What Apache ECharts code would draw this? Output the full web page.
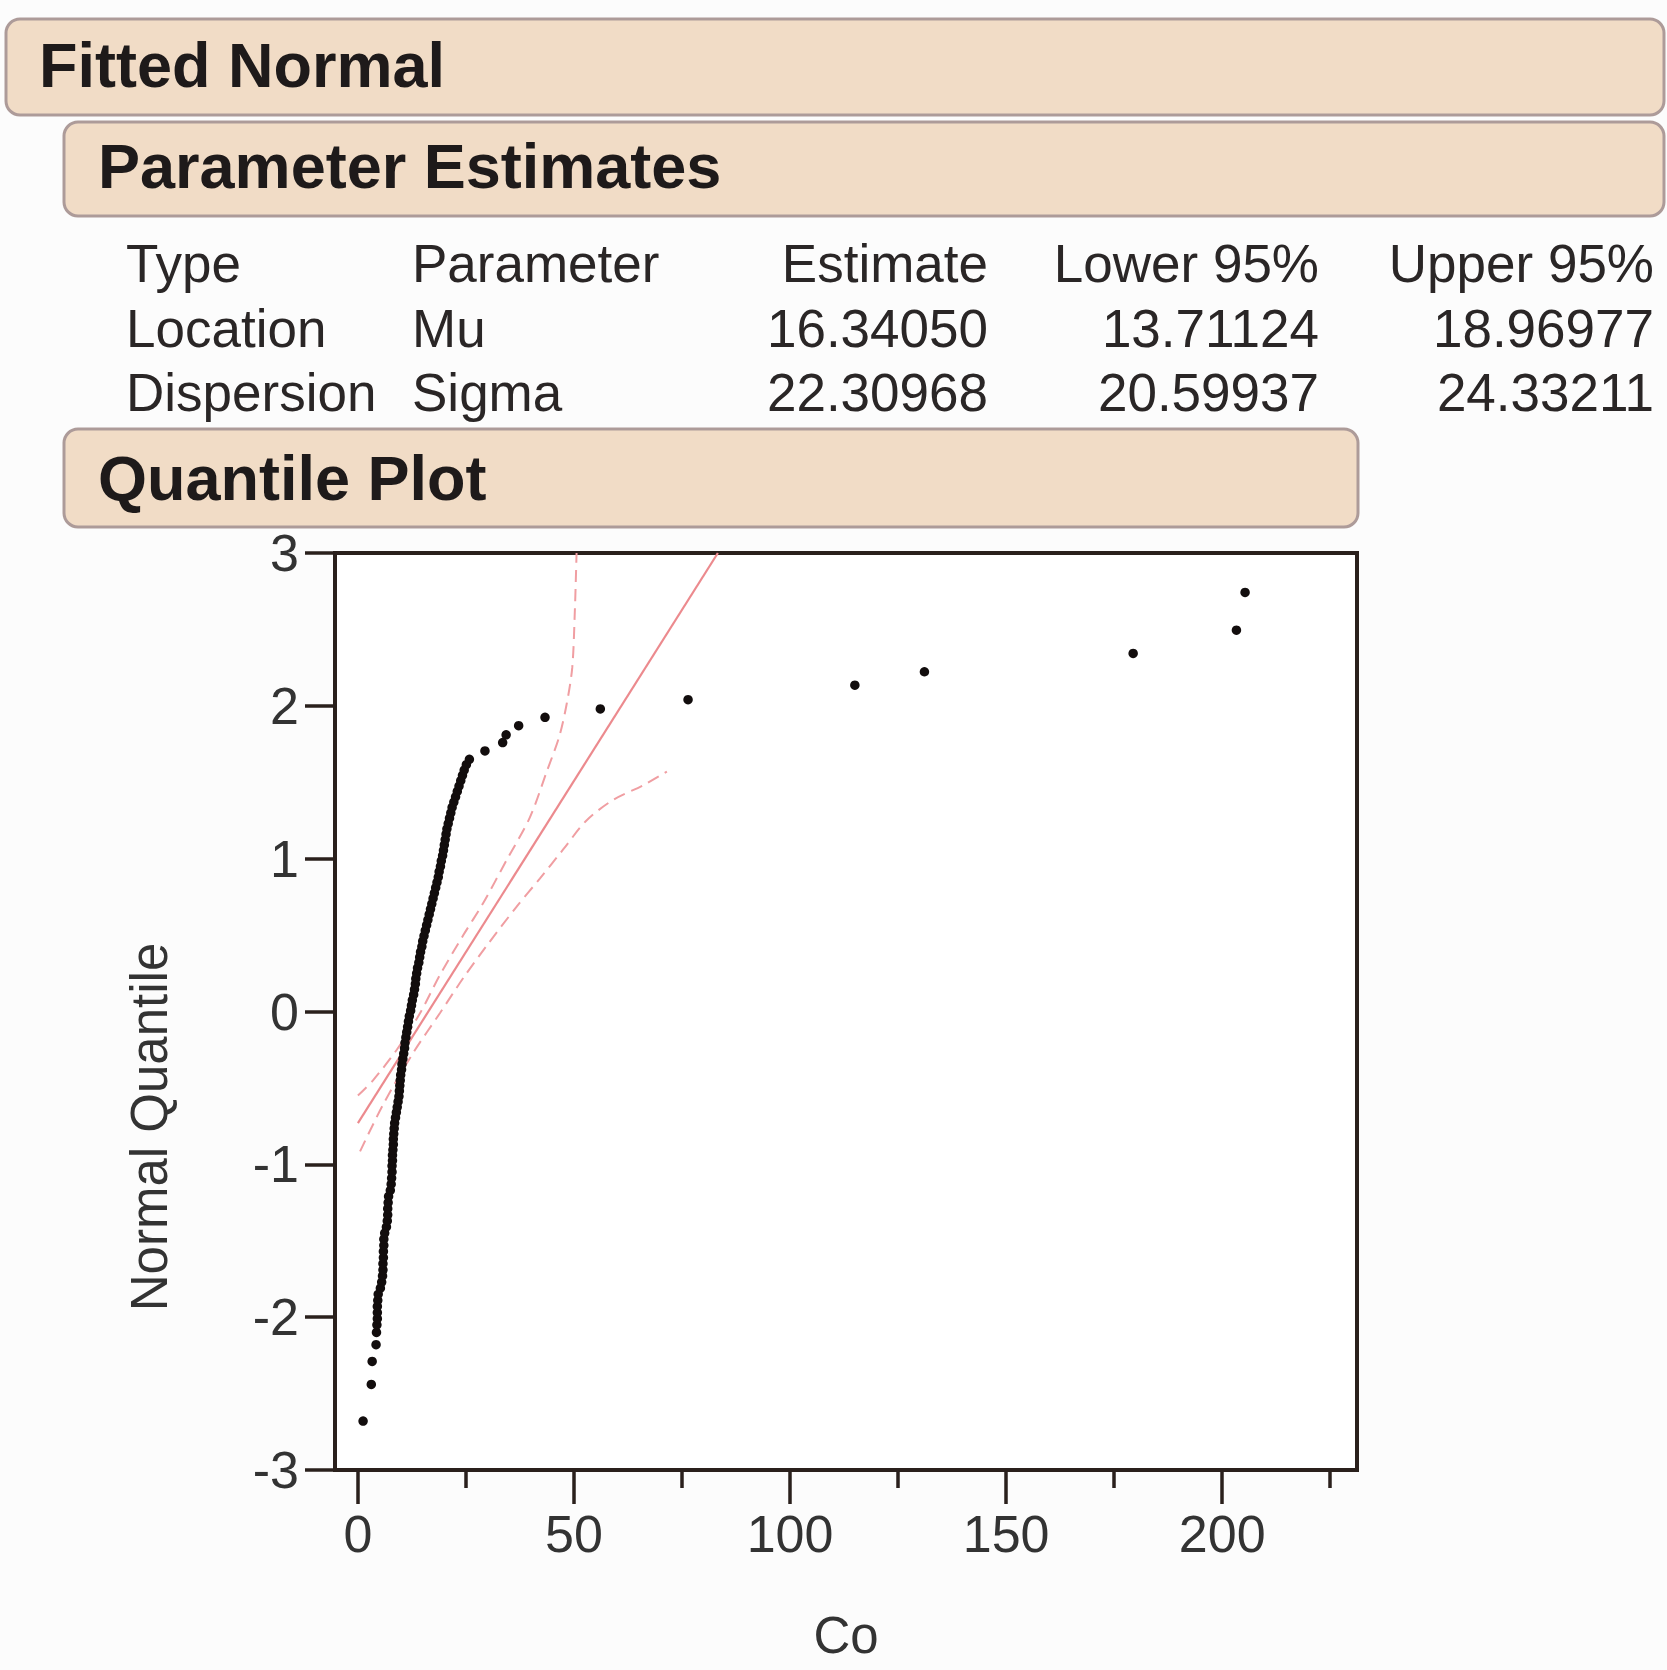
<!DOCTYPE html>
<html>
<head>
<meta charset="utf-8">
<script src="https://cdn.jsdelivr.net/npm/echarts@6/dist/echarts.min.js"></script>
<style>
  html, body { margin: 0; padding: 0; background: #fcfcfc; }
  #chart { width: 1667px; height: 1670px; }
</style>
</head>
<body>
<div id="chart"></div>
<script>
// ---------------- data ----------------
const sectionTitles = ['Fitted Normal', 'Parameter Estimates', 'Quantile Plot'];
const tableHeaders = ['Type', 'Parameter', 'Estimate', 'Lower 95%', 'Upper 95%'];
const paramTypes = ['Location', 'Dispersion'];
const paramNames = ['Mu', 'Sigma'];
const estimates = [16.34050, 22.30968];
const lower95 = [13.71124, 20.59937];
const upper95 = [18.96977, 24.33211];

const xAxisTitle = 'Co';
const yAxisTitle = 'Normal Quantile';
const xMajorTicks = [0, 50, 100, 150, 200];
const xMinorTicks = [25, 75, 125, 175, 225];
const yTicks = [-3, -2, -1, 0, 1, 2, 3];

const coValues = [
  1.2, 3.1, 3.3, 4.2, 4.3, 4.4, 4.5, 4.5, 4.5, 4.6, 4.7,
  5.2, 5.5, 5.7, 5.8, 5.8, 5.9, 5.9, 6.0, 6.0, 6.2,
  6.6, 6.8, 6.9, 6.9, 7.0, 7.1, 7.5, 7.7, 7.8, 7.9, 7.9, 8.0,
  8.0, 8.1, 8.2, 8.2, 8.3, 8.4, 8.5, 8.7, 8.9, 9.1, 9.3, 9.5, 9.6, 9.7, 9.8, 9.9,
  10.1, 10.2, 10.4, 10.6, 10.8, 10.9, 11.1, 11.3, 11.5, 11.7, 11.9, 12.2, 12.4, 12.6,
  12.9, 13.1, 13.3, 13.4, 13.6, 13.8, 14.1, 14.3, 14.5, 14.8, 15.0, 15.3, 15.6, 15.9,
  16.2, 16.5, 16.8, 17.1, 17.4, 17.7, 18.0, 18.3, 18.6, 18.8, 19.1, 19.3, 19.6, 19.8,
  20.0, 20.2, 20.4, 20.6, 20.9, 21.2, 21.5, 21.8, 22.2, 22.6, 23.0, 23.4, 23.8, 24.2,
  24.6, 25.1, 25.8,
  29.4, 33.5, 34.3, 37.2, 43.3, 56.1, 76.4, 115.0, 131.1, 179.4, 203.3, 205.3
];
const normalQuantiles = [
  -2.68, -2.44, -2.29, -2.18, -2.10, -2.05, -2.01, -1.97, -1.93, -1.89, -1.85,
  -1.81, -1.77, -1.73, -1.69, -1.65, -1.61, -1.57, -1.53, -1.49, -1.45,
  -1.41, -1.37, -1.33, -1.29, -1.25, -1.21, -1.17, -1.13, -1.09, -1.05, -1.01, -0.975,
  -0.94, -0.905, -0.87, -0.835, -0.80, -0.765, -0.73, -0.695, -0.66, -0.625, -0.59, -0.555, -0.52, -0.485, -0.45, -0.415,
  -0.38, -0.345, -0.31, -0.275, -0.24, -0.205, -0.17, -0.135, -0.10, -0.065, -0.03, 0.005, 0.04, 0.075,
  0.11, 0.145, 0.18, 0.215, 0.25, 0.285, 0.32, 0.355, 0.39, 0.425, 0.46, 0.495, 0.53, 0.565,
  0.60, 0.635, 0.67, 0.705, 0.74, 0.775, 0.81, 0.845, 0.88, 0.915, 0.95, 0.985, 1.02, 1.055,
  1.09, 1.125, 1.16, 1.195, 1.23, 1.265, 1.30, 1.335, 1.37, 1.405, 1.44, 1.475, 1.51, 1.545,
  1.58, 1.615, 1.65,
  1.705, 1.76, 1.81, 1.87, 1.925, 1.98, 2.04, 2.135, 2.223, 2.343, 2.495, 2.742
];

// fitted normal line and its dashed confidence limits
const fitLineX = [0, 83.3];
const fitLineQ = [-0.73, 3.0];
const upperLimitX = [0, 3.5, 9.0, 14.4, 19.0, 24.4, 29.0, 34.4, 39.8, 43.7, 46.6, 48.3, 49.6, 50.2, 50.6];
const upperLimitQ = [-0.55, -0.45, -0.25, -0.01, 0.24, 0.50, 0.71, 0.99, 1.27, 1.57, 1.80, 2.01, 2.25, 2.62, 3.0];
const lowerLimitX = [0.5, 6.0, 12.8, 19.0, 24.4, 29.8, 36.7, 42.1, 47.5, 52.9, 59.1, 66.0, 71.5];
const lowerLimitQ = [-0.915, -0.60, -0.27, -0.01, 0.22, 0.43, 0.685, 0.87, 1.06, 1.25, 1.385, 1.48, 1.57];

// ---------------- chart ----------------
const zip = (a, b) => a.map((v, i) => [v, b[i]]);
const FONT = '"Liberation Sans", Arial, sans-serif';
const TXT = '#1e1a1a';
const AX = '#2a201c';

const chart = echarts.init(document.getElementById('chart'), null, { renderer: 'svg' });

function headerBox(x, y, w, h, title, tx, ty) {
  return [
    { type: 'rect', shape: { x: x, y: y, width: w, height: h, r: 14 },
      style: { fill: '#f1dcc6', stroke: '#ad9b99', lineWidth: 3 }, z: 1 },
    { type: 'text', x: tx, y: ty, z: 2,
      style: { text: title, font: 'bold 63px ' + FONT, fill: TXT, align: 'left', verticalAlign: 'middle' } }
  ];
}

const graphics = [];
graphics.push(...headerBox(6, 19, 1658, 96, sectionTitles[0], 39, 65));
graphics.push(...headerBox(64, 122, 1600, 94, sectionTitles[1], 98, 166));
graphics.push(...headerBox(64, 429, 1294, 98, sectionTitles[2], 98, 478));

const tFont = '53px ' + FONT;
const colX = [126, 412, 988, 1319, 1654];
const colAlign = ['left', 'left', 'right', 'right', 'right'];
const rowY = [263, 328, 392];
tableHeaders.forEach((h, i) => {
  graphics.push({ type: 'text', x: colX[i], y: rowY[0],
    style: { text: h, font: tFont, fill: '#2a2626', align: colAlign[i], verticalAlign: 'middle' } });
});
paramTypes.forEach((t, r) => {
  const cells = [t, paramNames[r], estimates[r].toFixed(5), lower95[r].toFixed(5), upper95[r].toFixed(5)];
  cells.forEach((c, i) => {
    graphics.push({ type: 'text', x: colX[i], y: rowY[r + 1],
      style: { text: c, font: tFont, fill: '#2a2626', align: colAlign[i], verticalAlign: 'middle' } });
  });
});
// y axis title
graphics.push({ type: 'text', x: 149, y: 1127, rotation: Math.PI / 2,
  style: { text: yAxisTitle, font: '51px ' + FONT, fill: '#333', align: 'center', verticalAlign: 'middle' } });

const gridRect = { left: 335, top: 553, width: 1022, height: 917 };
const X_MIN = -5.3, X_MAX = 231.2;

const option = {
  backgroundColor: '#fcfcfc',
  animation: false,
  graphic: graphics,
  grid: [
    Object.assign({ show: true, backgroundColor: '#ffffff', borderColor: AX, borderWidth: 4,
      containLabel: false, outerBoundsMode: 'none' }, gridRect),
    Object.assign({ show: false, containLabel: false, outerBoundsMode: 'none' }, gridRect)
  ],
  xAxis: [
    { type: 'value', gridIndex: 0, min: X_MIN, max: X_MAX, position: 'bottom',
      axisLine: { show: true, onZero: false, lineStyle: { color: AX, width: 4 } },
      axisTick: { show: true, inside: false, length: 34, customValues: xMajorTicks, lineStyle: { color: AX, width: 3.5 } },
      axisLabel: { show: true, customValues: xMajorTicks, margin: 38, fontSize: 52, fontFamily: FONT, color: '#333' },
      splitLine: { show: false },
      name: xAxisTitle, nameLocation: 'middle', nameGap: 140,
      nameTextStyle: { fontSize: 51, fontFamily: FONT, color: '#333' } },
    { type: 'value', gridIndex: 1, min: X_MIN, max: X_MAX, position: 'bottom',
      axisLine: { show: false, onZero: false },
      axisTick: { show: true, inside: false, length: 18, customValues: xMinorTicks, lineStyle: { color: AX, width: 3.5 } },
      axisLabel: { show: false }, splitLine: { show: false } }
  ],
  yAxis: [
    { type: 'value', gridIndex: 0, min: -3, max: 3, interval: 1,
      axisLine: { show: true, onZero: false, lineStyle: { color: AX, width: 4 } },
      axisTick: { show: true, inside: false, length: 30, lineStyle: { color: AX, width: 3.5 } },
      axisLabel: { show: true, margin: 36, fontSize: 52, fontFamily: FONT, color: '#333',
        formatter: v => (yTicks.indexOf(v) >= 0 ? String(v) : '') },
      splitLine: { show: false } },
    { type: 'value', gridIndex: 1, min: -3, max: 3, show: false }
  ],
  series: [
    { type: 'line', xAxisIndex: 0, yAxisIndex: 0, data: zip(fitLineX, fitLineQ), showSymbol: false,
      lineStyle: { color: '#ec8a8e', width: 2.2 }, z: 2, silent: true },
    { type: 'line', xAxisIndex: 0, yAxisIndex: 0, data: zip(upperLimitX, upperLimitQ), showSymbol: false, smooth: 0.3,
      lineStyle: { color: '#f09ea2', width: 2, type: [12, 7] }, z: 2, silent: true },
    { type: 'line', xAxisIndex: 0, yAxisIndex: 0, data: zip(lowerLimitX, lowerLimitQ), showSymbol: false, smooth: 0.3,
      lineStyle: { color: '#f09ea2', width: 2, type: [12, 7] }, z: 2, silent: true },
    { type: 'scatter', xAxisIndex: 0, yAxisIndex: 0, data: zip(coValues, normalQuantiles),
      symbol: 'circle', symbolSize: 9.5, itemStyle: { color: '#120d0d', opacity: 1 }, z: 5, silent: true }
  ]
};
chart.setOption(option);
</script>
</body>
</html>
